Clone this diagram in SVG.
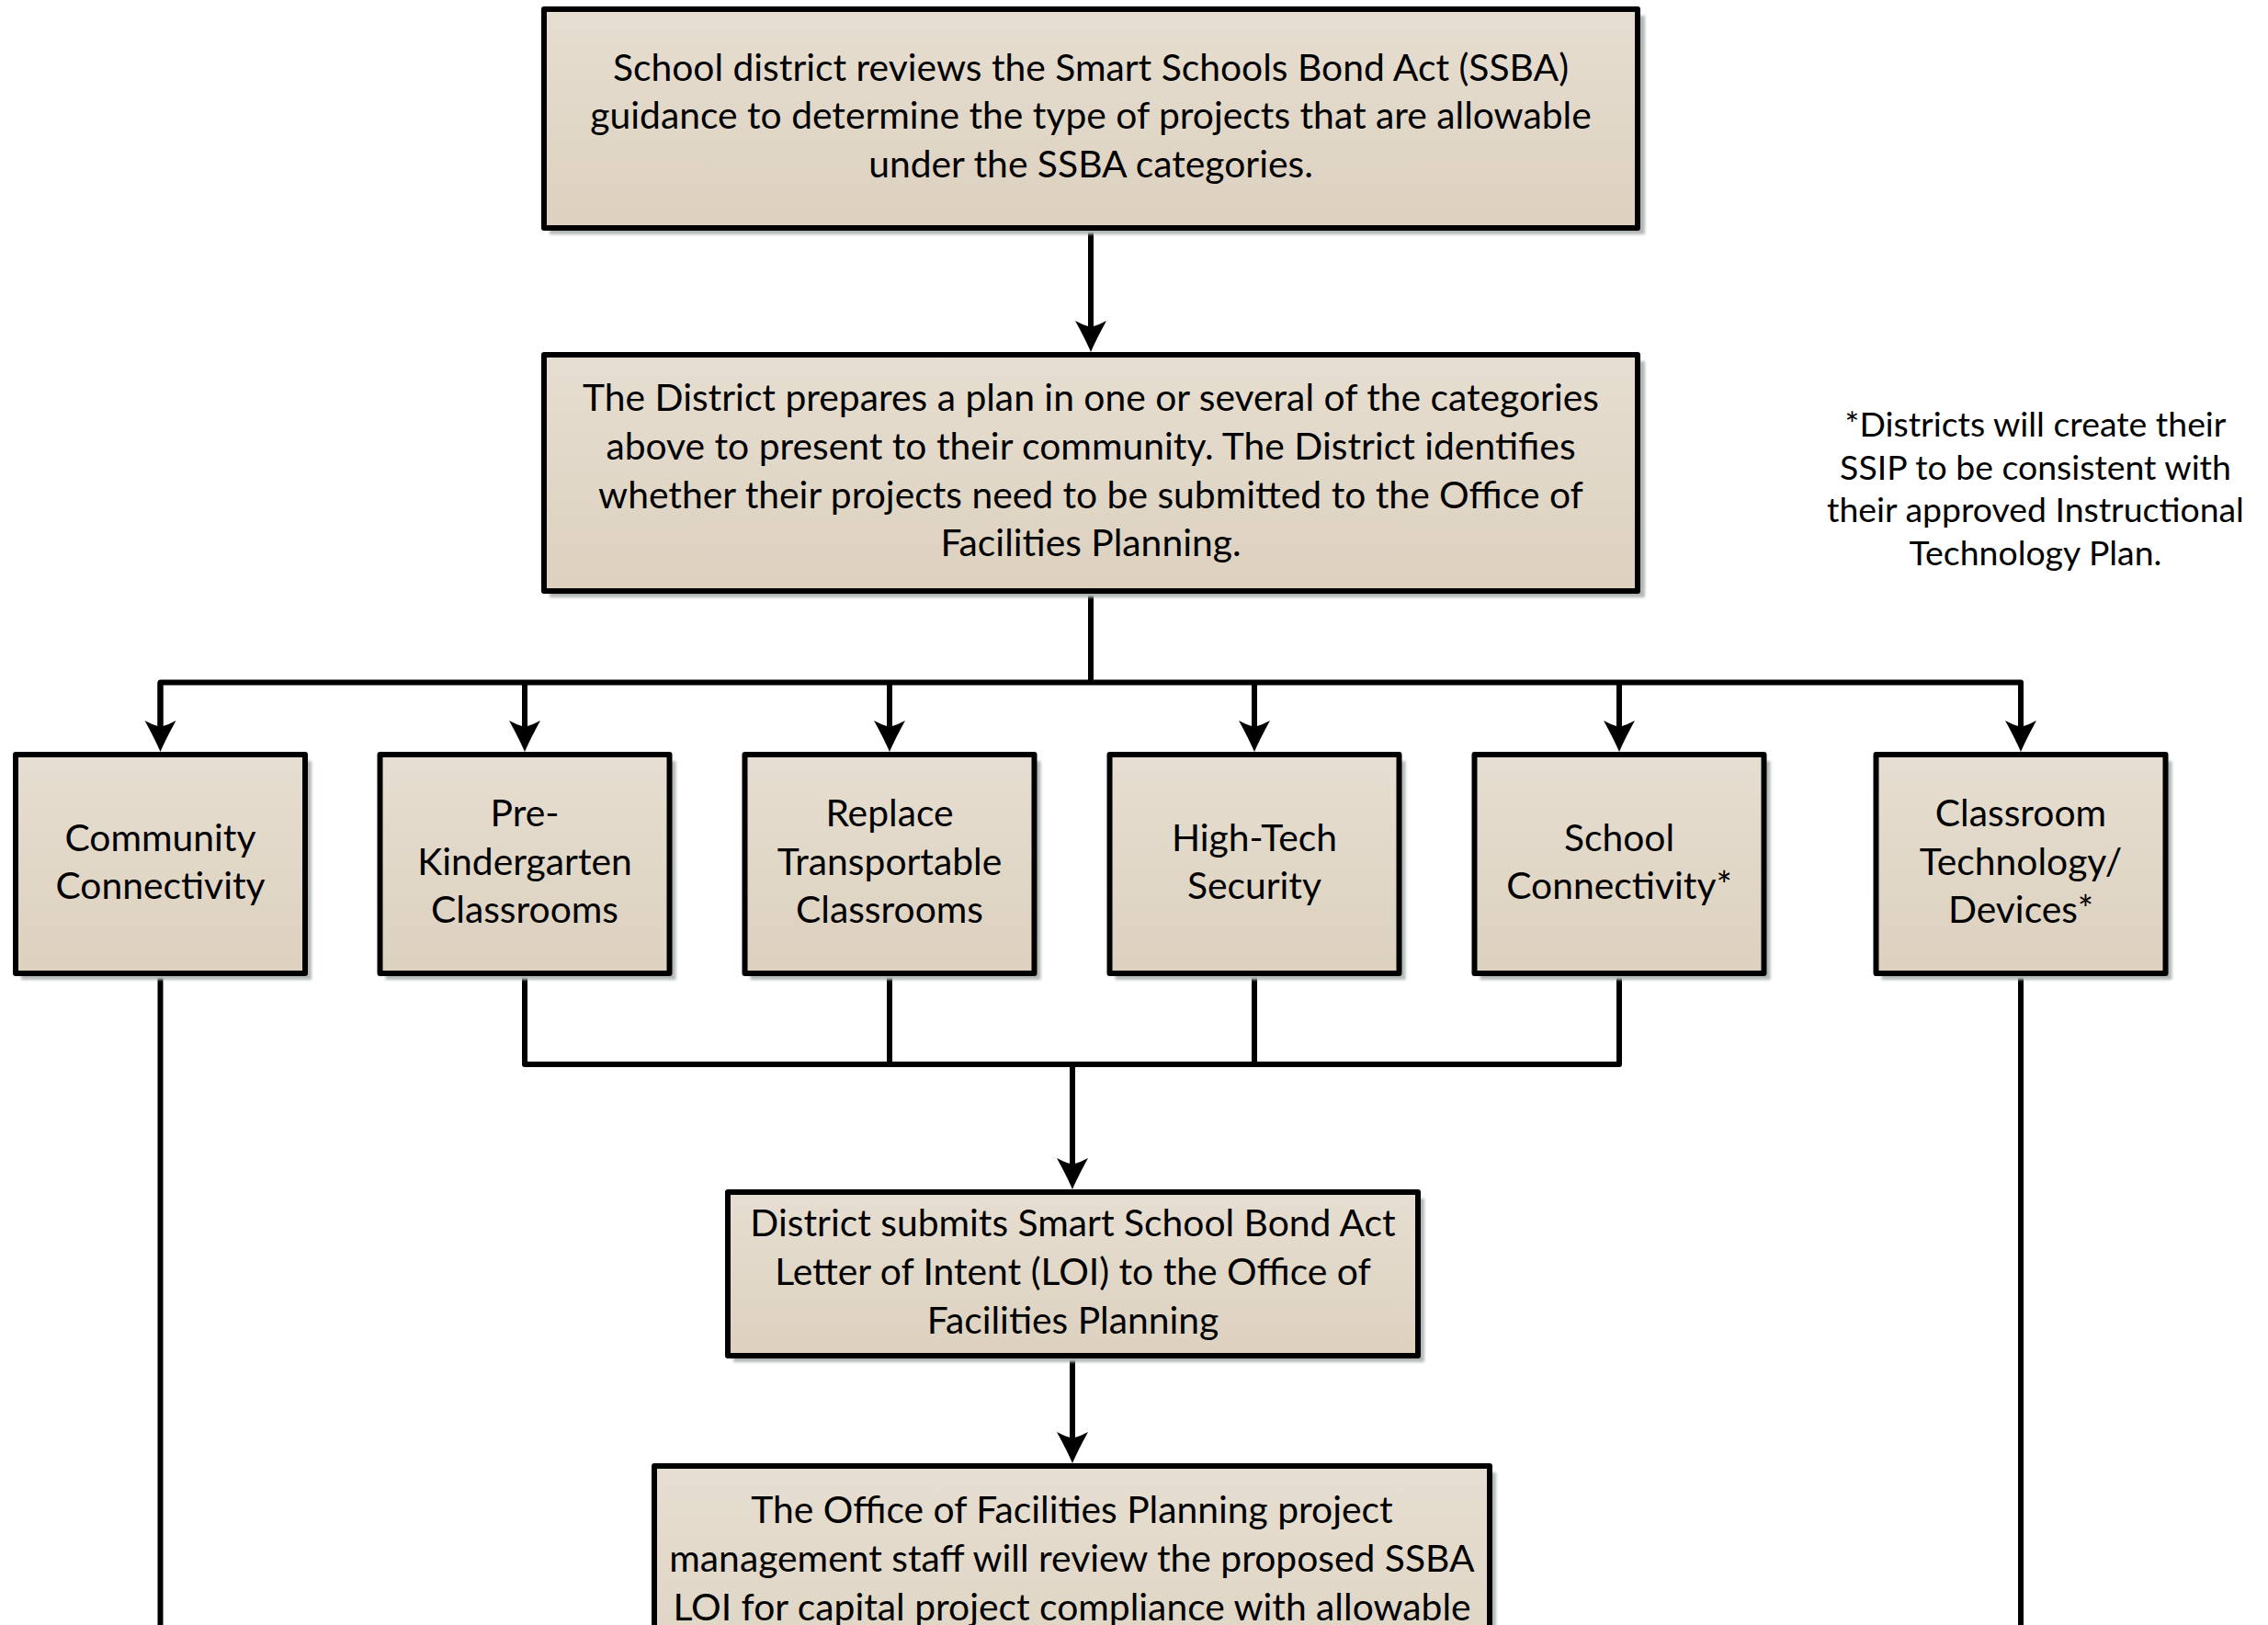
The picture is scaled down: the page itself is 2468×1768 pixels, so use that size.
<svg xmlns="http://www.w3.org/2000/svg" width="2468" height="1768" viewBox="0 0 2468 1768">
<defs>
<linearGradient id="fillG" x1="0" y1="0" x2="0" y2="1">
<stop offset="0" stop-color="#e6ded1"/>
<stop offset="1" stop-color="#ddd1bf"/>
</linearGradient>
<marker id="arr" markerUnits="userSpaceOnUse" markerWidth="60" markerHeight="60" viewBox="-40 -30 60 60" refX="-20" refY="0" orient="auto">
<path d="M0,0 Q-14,-6 -34,-17 Q-29,-8 -27,0 Q-29,8 -34,17 Q-14,6 0,0 Z" fill="#000"/>
</marker>
<filter id="sh" x="-5%" y="-5%" width="115%" height="120%">
<feGaussianBlur stdDeviation="1.5"/>
</filter>
</defs>
<style>
.box{fill:url(#fillG);stroke:#000;stroke-width:6;stroke-linejoin:round}
.shadow{fill:#b2b9b5;filter:url(#sh)}
.t{font-family:Lato,"Open Sans","Liberation Sans",sans-serif;font-size:40.8px;fill:#000;text-anchor:middle}
.note{font-family:Lato,"Open Sans","Liberation Sans",sans-serif;font-size:37.4px;fill:#000;text-anchor:middle}
.ln{fill:none;stroke:#000;stroke-width:6;stroke-linejoin:round;stroke-linecap:butt}
</style>
<rect width="2468" height="1768" fill="#ffffff"/>

<g id="connectors">
<line class="ln" x1="1187" y1="251" x2="1187" y2="363" marker-end="url(#arr)"/>
<line class="ln" x1="1187" y1="646" x2="1187" y2="742.5"/>
<polyline class="ln" points="174.5,798 174.5,742.5 2199,742.5 2199,798"/>
<line class="ln" x1="174.5" y1="742.5" x2="174.5" y2="798" marker-end="url(#arr)"/>
<line class="ln" x1="571" y1="742.5" x2="571" y2="798" marker-end="url(#arr)"/>
<line class="ln" x1="968" y1="742.5" x2="968" y2="798" marker-end="url(#arr)"/>
<line class="ln" x1="1365" y1="742.5" x2="1365" y2="798" marker-end="url(#arr)"/>
<line class="ln" x1="1762" y1="742.5" x2="1762" y2="798" marker-end="url(#arr)"/>
<line class="ln" x1="2199" y1="742.5" x2="2199" y2="798" marker-end="url(#arr)"/>
<polyline class="ln" points="571,1062 571,1158 1762,1158 1762,1062"/>
<line class="ln" x1="968" y1="1062" x2="968" y2="1158"/>
<line class="ln" x1="1365" y1="1062" x2="1365" y2="1158"/>
<line class="ln" x1="1167" y1="1158" x2="1167" y2="1274" marker-end="url(#arr)"/>
<line class="ln" x1="1167" y1="1478" x2="1167" y2="1572" marker-end="url(#arr)"/>
<line class="ln" x1="174.5" y1="1062" x2="174.5" y2="1770"/>
<line class="ln" x1="2199" y1="1062" x2="2199" y2="1770"/>
</g>

<g id="n1">
<rect class="shadow" x="598" y="17" width="1192" height="238"/>
<rect class="box" x="592" y="10" width="1190" height="238"/>
<text class="t" x="1187" y="88">School district reviews the Smart Schools Bond Act (SSBA)</text>
<text class="t" x="1187" y="140">guidance to determine the type of projects that are allowable</text>
<text class="t" x="1187" y="193">under the SSBA categories.</text>
</g>

<g id="n2">
<rect class="shadow" x="598" y="393" width="1192" height="257"/>
<rect class="box" x="592" y="386" width="1190" height="257"/>
<text class="t" x="1187" y="447">The District prepares a plan in one or several of the categories</text>
<text class="t" x="1187" y="500">above to present to their community. The District identifies</text>
<text class="t" x="1187" y="553">whether their projects need to be submitted to the Office of</text>
<text class="t" x="1187" y="605">Facilities Planning.</text>
</g>

<g id="c1">
<rect class="shadow" x="23" y="828" width="316" height="238"/>
<rect class="box" x="17" y="821" width="315" height="238"/>
<text class="t" x="174.5" y="926">Community</text>
<text class="t" x="174.5" y="978">Connectivity</text>
</g>

<g id="c2">
<rect class="shadow" x="419.5" y="828" width="316" height="238"/>
<rect class="box" x="413.5" y="821" width="315" height="238"/>
<text class="t" x="571" y="899">Pre-</text>
<text class="t" x="571" y="952">Kindergarten</text>
<text class="t" x="571" y="1004">Classrooms</text>
</g>

<g id="c3">
<rect class="shadow" x="816.5" y="828" width="316" height="238"/>
<rect class="box" x="810.5" y="821" width="315" height="238"/>
<text class="t" x="968" y="899">Replace</text>
<text class="t" x="968" y="952">Transportable</text>
<text class="t" x="968" y="1004">Classrooms</text>
</g>

<g id="c4">
<rect class="shadow" x="1213.5" y="828" width="316" height="238"/>
<rect class="box" x="1207.5" y="821" width="315" height="238"/>
<text class="t" x="1365" y="926">High-Tech</text>
<text class="t" x="1365" y="978">Security</text>
</g>

<g id="c5">
<rect class="shadow" x="1610.5" y="828" width="316" height="238"/>
<rect class="box" x="1604.5" y="821" width="315" height="238"/>
<text class="t" x="1762" y="926">School</text>
<text class="t" x="1762" y="978">Connectivity*</text>
</g>

<g id="c6">
<rect class="shadow" x="2047.5" y="828" width="316" height="238"/>
<rect class="box" x="2041.5" y="821" width="315" height="238"/>
<text class="t" x="2199" y="899">Classroom</text>
<text class="t" x="2199" y="952">Technology/</text>
<text class="t" x="2199" y="1004">Devices*</text>
</g>

<g id="n3">
<rect class="shadow" x="798" y="1304" width="752" height="178"/>
<rect class="box" x="792" y="1297" width="751" height="178"/>
<text class="t" x="1167.5" y="1345">District submits Smart School Bond Act</text>
<text class="t" x="1167.5" y="1398">Letter of Intent (LOI) to the Office of</text>
<text class="t" x="1167.5" y="1451">Facilities Planning</text>
</g>

<g id="n4">
<rect class="shadow" x="718" y="1602" width="910" height="300"/>
<rect class="box" x="712" y="1595" width="909" height="300"/>
<text class="t" x="1166.5" y="1657">The Office of Facilities Planning project</text>
<text class="t" x="1166.5" y="1710">management staff will review the proposed SSBA</text>
<text class="t" x="1166.5" y="1763">LOI for capital project compliance with allowable</text>
</g>

<g id="note">
<text class="note" x="2215" y="475">*Districts will create their</text>
<text class="note" x="2215" y="522">SSIP to be consistent with</text>
<text class="note" x="2215" y="568">their approved Instructional</text>
<text class="note" x="2215" y="615">Technology Plan.</text>
</g>
</svg>
